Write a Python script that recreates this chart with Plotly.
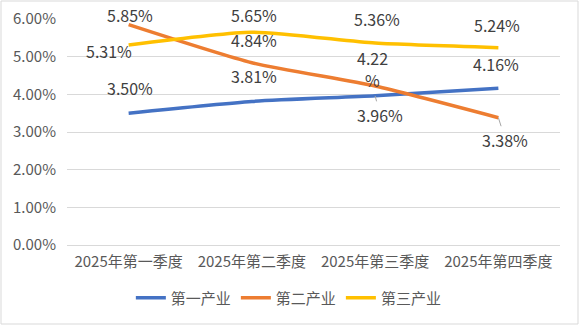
import plotly.graph_objects as go

# Quarterly growth rates (%) by industry, 2025
quarters = ["2025年第一季度", "2025年第二季度", "2025年第三季度", "2025年第四季度"]
primary = [3.50, 3.81, 3.96, 4.16]
secondary = [5.85, 4.84, 4.22, 3.38]
tertiary = [5.31, 5.65, 5.36, 5.24]
series_names = ["第一产业", "第二产业", "第三产业"]
y_ticks = [0, 1, 2, 3, 4, 5, 6]

colors = ["#4472C4", "#ED7D31", "#FFC000"]
font_family = "Noto Sans CJK SC, Microsoft YaHei, sans-serif"
text_color = "#595959"
label_color = "#404040"

W, H = 580, 326
L, R, T, B = 67, 20, 19, 81

fig = go.Figure()
for name, vals, col in zip(series_names, [primary, secondary, tertiary], colors):
    fig.add_trace(go.Scatter(
        x=quarters, y=vals, name=name, mode="lines",
        line=dict(color=col, width=3.5, shape="spline", smoothing=0.6),
        hoverinfo="skip",
    ))

label_font = dict(size=16, color=label_color, family=font_family)

# Data label offsets (pixels) per series / point: (xshift, yshift)
offsets = [
    [(1, 25), (2, 25), None, (-2, 24)],
    [(1, 10), (2, 23), None, None],
    [(-20, -6), (2, 17), (2, 24), (-1, 23)],
]
# Labels with leader lines: (series index, point index, ax, ay)
leaders = [(0, 2, 5, 19), (1, 3, 7, 22)]

annotations = []
for si, vals in enumerate([primary, secondary, tertiary]):
    for pi, v in enumerate(vals):
        off = offsets[si][pi]
        if off is None:
            continue
        annotations.append(dict(
            x=quarters[pi], y=v, text=f"{v:.2f}%", showarrow=False,
            xshift=off[0], yshift=off[1], font=label_font,
        ))

# Narrow label box for the third-quarter secondary value: number over "%"
v = secondary[2]
annotations.append(dict(x=quarters[2], y=v, text=f"{v:.2f}", showarrow=False,
                        xshift=-3, yshift=28, font=label_font))
annotations.append(dict(x=quarters[2], y=v, text="%", showarrow=False,
                        xshift=-3, yshift=6, font=label_font))

for si, pi, ax, ay in leaders:
    v = [primary, secondary, tertiary][si][pi]
    annotations.append(dict(
        x=quarters[pi], y=v, text=f"{v:.2f}%", showarrow=True,
        arrowhead=0, arrowwidth=1, arrowcolor="#A6A6A6", ax=ax, ay=ay,
        font=label_font,
    ))

pw, ph = W - L - R, H - T - B
fig.add_shape(
    type="rect", xref="paper", yref="paper",
    x0=(1 - L) / pw, x1=(W - 2 - L) / pw,
    y0=(2 - B) / ph, y1=(H - 1 - B) / ph,
    line=dict(color="#D9D9D9", width=1), layer="below",
)

fig.update_layout(
    width=W, height=H,
    margin=dict(l=L, r=R, t=T, b=B, autoexpand=False),
    paper_bgcolor="white", plot_bgcolor="white",
    font=dict(family=font_family, color=text_color, size=15),
    showlegend=True,
    legend=dict(
        orientation="h", x=0.45, xanchor="center", y=-0.235, yanchor="middle",
        font=dict(size=15, color=text_color), itemwidth=30,
        tracegroupgap=0,
    ),
    annotations=annotations,
    xaxis=dict(
        range=[-0.5, 3.5], showgrid=False, showline=False, zeroline=False,
        ticks="", tickfont=dict(size=15, color=text_color), automargin=False,
        ticklabelstandoff=6,
    ),
    yaxis=dict(
        range=[0, 6], tickvals=y_ticks,
        ticktext=[f"{t:.2f}%" for t in y_ticks],
        showgrid=True, gridcolor="#D9D9D9", gridwidth=1,
        zeroline=True, zerolinecolor="#D9D9D9", zerolinewidth=1,
        showline=False, ticks="", tickfont=dict(size=15, color=text_color),
        automargin=False, ticklabelstandoff=10,
    ),
)

fig.write_html("out.html")
